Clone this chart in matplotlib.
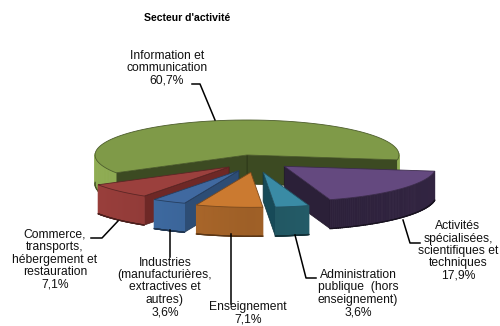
import numpy as np
import matplotlib
matplotlib.use("Agg")
import matplotlib.pyplot as plt

plt.rcParams['font.family'] = ['Liberation Sans', 'DejaVu Sans']

# slices, clockwise from the green one
sectors = ["Information et\ncommunication",
           "Activités\nspécialisées,\nscientifiques et\ntechniques",
           "Administration\npublique  (hors\nenseignement)",
           "Enseignement",
           "Industries\n(manufacturières,\nextractives et\nautres)",
           "Commerce,\ntransports,\nhébergement et\nrestauration"]
values = [60.7, 17.9, 3.6, 7.1, 3.6, 7.1]
value_labels = ["60,7%", "17,9%", "3,6%", "7,1%", "3,6%", "7,1%"]
top_colors = ["#7f9a48", "#64497f", "#3a8ba5", "#cb7a30", "#4069a0", "#9b403d"]
wall_colors = ["#8aa650", "#30233f", "#26626f", "#b36c2c", "#3f6ca4", "#963d3a"]
cut_colors = ["#3c4a22", "#2b2038", "#174a58", "#8a5220", "#2d4d75", "#6e2826"]
exploded = [False, True, True, True, True, True]

cx, cy = 247, 155
rx, ry = 152, 35
depth = 29
start_angle = -8
ex, ey, shift = 37, 17.5, 9


def shade(col, f):
    r = np.array(matplotlib.colors.to_rgb(col)) * f
    return tuple(np.clip(r, 0, 1))


fig = plt.figure(figsize=(5, 3.26), dpi=100)
ax = fig.add_axes([0, 0, 1, 1])
ax.set_xlim(0, 500)
ax.set_ylim(326, 0)
ax.axis("off")

# work out the angle span of each slice from the values
total = sum(values)
spans = []
a = start_angle + 360 * values[0] / total
for v in values:
    spans.append((a - 360 * v / total, a))
    a = a - 360 * v / total


def draw_slice(i, z):
    a1, a2 = spans[i]
    mid = np.radians((a1 + a2) / 2)
    x0, y0 = cx, cy
    if exploded[i]:
        x0 = cx + shift + ex * np.cos(mid)
        y0 = cy - ey * np.sin(mid)
    th = np.radians(np.linspace(a1, a2, 80))
    xs = x0 + rx * np.cos(th)
    ys = y0 - ry * np.sin(th)

    # flat cut faces
    for ang, vis in ((a1, np.cos(np.radians(a1)) > 0), (a2, np.cos(np.radians(a2)) < 0)):
        if vis:
            ex_x = x0 + rx * np.cos(np.radians(ang))
            ex_y = y0 - ry * np.sin(np.radians(ang))
            ax.fill([x0, ex_x, ex_x, x0], [y0, ex_y, ex_y + depth, y0 + depth],
                    fc=cut_colors[i], ec=shade(cut_colors[i], 0.7), lw=0.5, zorder=z)

    # outer wall, only the part facing us, in thin strips for the gradient
    for k in range(len(th) - 1):
        if np.sin(th[k]) < 0.02 or np.sin(th[k + 1]) < 0.02:
            f = 0.88 + 0.16 * abs(np.cos(th[k]))
            col = shade(wall_colors[i], f)
            ax.fill([xs[k], xs[k + 1], xs[k + 1], xs[k]],
                    [ys[k], ys[k + 1], ys[k + 1] + depth, ys[k] + depth],
                    fc=col, ec=col, lw=0.6, zorder=z + 0.1)
            ax.plot([xs[k], xs[k + 1]], [ys[k] + depth, ys[k + 1] + depth],
                    color=shade(wall_colors[i], 0.5), lw=0.9, zorder=z + 0.2)

    # top face
    ax.fill(np.r_[x0, xs], np.r_[y0, ys], fc=top_colors[i],
            ec=shade(top_colors[i], 0.6), lw=0.6, zorder=z + 0.3)


# back to front
for z, i in enumerate([0, 5, 1, 4, 2, 3]):
    draw_slice(i, z + 1)

# labels
txt = dict(ha="center", va="center", fontsize=8.7, color="#111111", linespacing=1.05, zorder=20)
ax.text(167, 68, sectors[0] + "\n" + value_labels[0], **txt)
ax.text(458, 251, sectors[1] + "\n" + value_labels[1], **txt)
ax.text(358, 293.5, sectors[2] + "\n" + value_labels[2], **txt)
ax.text(248, 313, sectors[3] + "\n" + value_labels[3], **txt)
ax.text(165, 287.5, sectors[4] + "\n" + value_labels[4], **txt)
ax.text(55, 259.5, sectors[5] + "\n" + value_labels[5], **txt)
ax.text(187, 18, "Secteur d'activité", ha="center", va="center", fontsize=7.6,
        fontweight="bold", color="black")

# leader lines
leaders = [([192, 200, 215], [84, 84, 120]),
           ([403, 410, 420], [220, 243, 243]),
           ([295, 306, 316], [235, 278, 278]),
           ([231, 231], [234, 304]),
           ([170, 170], [230, 257]),
           ([91, 102, 118], [238, 238, 221])]
for lx, ly in leaders:
    ax.plot(lx, ly, color="black", lw=1.1, zorder=19)

fig.savefig("out.png", dpi=100)
